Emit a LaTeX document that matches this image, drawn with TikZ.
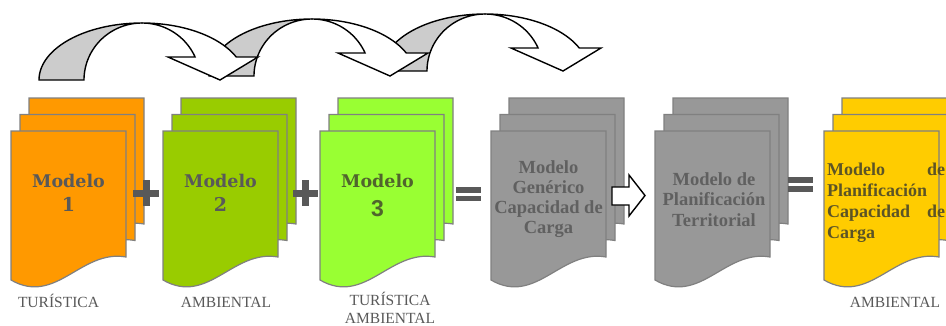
\documentclass[tikz,border=0pt]{standalone}
\usepackage{fontspec}
\setmainfont{Liberation Serif}
\newfontfamily\slabfont{DejaVu Serif}
\newfontfamily\arialfont{Liberation Sans}
\definecolor{pagegray}{RGB}{128,128,128}
\definecolor{orangefill}{RGB}{255,153,0}
\definecolor{olivefill}{RGB}{153,204,0}
\definecolor{limefill}{RGB}{153,255,51}
\definecolor{grayfill}{RGB}{152,152,152}
\definecolor{yellowfill}{RGB}{255,204,0}
\definecolor{arrowgray}{RGB}{204,204,204}
\definecolor{textgray}{RGB}{89,89,89}
\definecolor{greentext}{RGB}{80,100,45}
\definecolor{graytext}{RGB}{96,96,96}
\definecolor{yellowtext}{RGB}{92,84,38}
\tikzset{
  pageline/.style={draw=pagegray, line width=1.2pt},
  arrowline/.style={draw=black, line width=1.4pt},
  symbar/.style={draw=textgray, line width=7pt},
  eqbar/.style={draw=textgray, line width=5.5pt},
  modelword/.style={font=\slabfont\bfseries\fontsize{17.5}{20}\selectfont, text=textgray, inner sep=0pt, anchor=base},
  modeldigit/.style={font=\slabfont\bfseries\fontsize{19}{22}\selectfont, text=textgray, inner sep=0pt, anchor=base},
  boxline/.style={font=\bfseries\fontsize{18.5}{21}\selectfont, text=graytext, inner sep=0pt, anchor=base},
  yline/.style={font=\bfseries\fontsize{18}{21}\selectfont, text=yellowtext, inner sep=0pt, anchor=base west},
  caption/.style={font=\fontsize{15.5}{18}\selectfont, text=textgray, inner sep=0pt, anchor=base}
}
\newcommand\docstack[2]{%
  \foreach \dx/\dy in {18/-33, 9/-16.5, 0/0} {
    \begin{scope}[shift={({#1+\dx},{131+\dy})}]
      \draw[pageline, fill=#2] (0,0) -- (115,0) -- (115,126)
        .. controls (70,118) and (45,175) .. (0,149) -- cycle;
    \end{scope}
  }%
}
\newcommand\curvedarrow[2]{%
  \begin{scope}[shift={(#1,#2)}]
    \filldraw[arrowline, fill=white]
      plot[domain=270:336.2, samples=40] ({142+103*cos(\x)},{80+57*sin(\x)})
      -- (258,57) -- (220,80) -- (168,57)
      -- plot[domain=336.2:270, samples=40] ({142+58*cos(\x)},{80+57*sin(\x)}) -- cycle;
    \filldraw[arrowline, fill=arrowgray]
      plot[domain=180:270, samples=40] ({142+103*cos(\x)},{80+57*sin(\x)})
      -- plot[domain=270:180, samples=40] ({142+58*cos(\x)},{80+57*sin(\x)}) -- cycle;
  \end{scope}%
}
\begin{document}
\begin{tikzpicture}[x=1pt, y=-1pt]
\clip (0,0) rectangle (946,325);
\fill[white] (0,0) rectangle (946,325);

% curved arrows (last drawn on top)
\curvedarrow{343}{-9}
\curvedarrow{170}{-4}
\curvedarrow{0}{0}

% document stacks
\docstack{11}{orangefill}
\docstack{163}{olivefill}
\docstack{320}{limefill}
\docstack{491}{grayfill}
\docstack{655}{grayfill}
\docstack{824}{yellowfill}

% plus and equals signs
\draw[symbar] (133,193) -- (159,193);
\draw[symbar] (146,180) -- (146,206);
\draw[symbar] (293,193) -- (318,193);
\draw[symbar] (305.5,180) -- (305.5,206);
\draw[eqbar] (456,190) -- (481,190);
\draw[eqbar] (456,198.5) -- (481,198.5);
\draw[eqbar] (788,180) -- (813,180);
\draw[eqbar] (788,189) -- (813,189);

% block arrow
\coordinate (ba1) at (612,187);
\coordinate (ba2) at (629,187);
\coordinate (ba3) at (629,175);
\coordinate (ba4) at (645,195.5);
\coordinate (ba5) at (629,216);
\coordinate (ba6) at (629,205);
\coordinate (ba7) at (612,205);
\draw[arrowline, fill=white] (ba1) -- (ba2) -- (ba3) -- (ba4) -- (ba5) -- (ba6) -- (ba7) -- cycle;

% texts
\node[modelword] (m1a) at (68.5,187) {Modelo};
\node[modeldigit] (m1b) at (68.5,211) {1};
\node[modelword] (m2a) at (220.5,187) {Modelo};
\node[modeldigit] (m2b) at (220.5,211) {2};
\node[modelword, text=greentext] (m3a) at (377.5,187) {Modelo};
\node[modeldigit, font=\arialfont\bfseries\fontsize{23}{26}\selectfont, text=greentext] (m3b) at (377.5,216.5) {3};

\node[boxline] (g1) at (548.5,173) {Modelo};
\node[boxline] (g2) at (548.5,193) {Genérico};
\node[boxline] (g3) at (548.5,213) {Capacidad de};
\node[boxline] (g4) at (548.5,233) {Carga};

\node[boxline] (p1) at (714,185) {Modelo de};
\node[boxline] (p2) at (714,205.5) {Planificación};
\node[boxline] (p3) at (714,226) {Territorial};

\node[yline] (y1) at (827,175) {\hbox to 118pt{Modelo\hfill de}};
\node[yline] (y2) at (827,196) {Planificación};
\node[yline] (y3) at (827,217) {\hbox to 118pt{Capacidad\hfill de}};
\node[yline] (y4) at (827,238) {Carga};

\node[caption] (c1) at (58.5,307) {TURÍSTICA};
\node[caption] (c2) at (226,307) {AMBIENTAL};
\node[caption] (c3) at (390,305) {TURÍSTICA};
\node[caption] (c4) at (390,323) {AMBIENTAL};
\node[caption] (c5) at (895,307) {AMBIENTAL};
\end{tikzpicture}
\end{document}
